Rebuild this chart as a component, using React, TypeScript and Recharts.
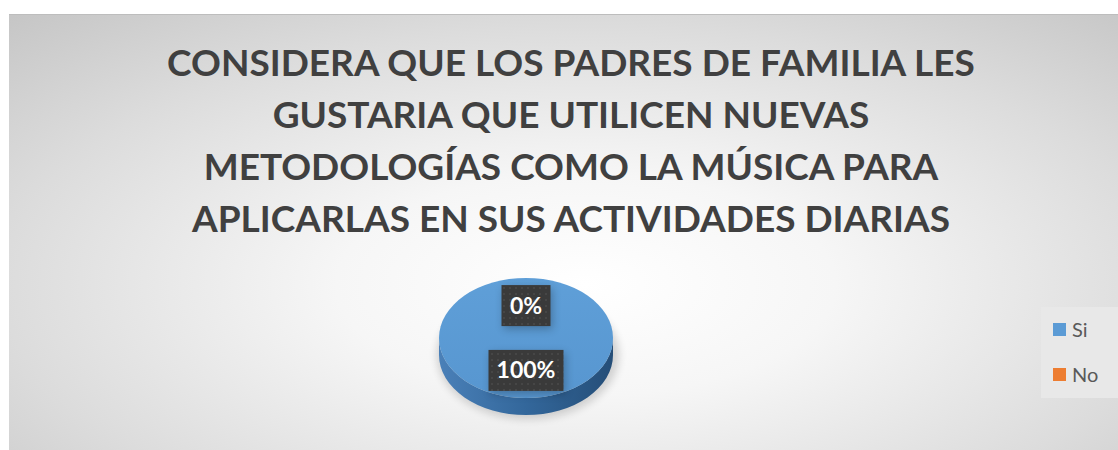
import React from 'react'
import { PieChart, Pie, Legend } from 'recharts'

const categories = ['Si', 'No']
const values = [100, 0]
const colors = ['#5b9bd5', '#ed7d31']
const titleLines = [
  'CONSIDERA QUE LOS PADRES DE FAMILIA LES',
  'GUSTARIA QUE UTILICEN NUEVAS',
  'METODOLOGÍAS COMO LA MÚSICA PARA',
  'APLICARLAS EN SUS ACTIVIDADES DIARIAS',
]

const data = categories.map((name, i) => ({ name, value: values[i], fill: colors[i] }))
const total = values.reduce((a, b) => a + b, 0)

const RADIAN = Math.PI / 180
const TILT = 0.69
const DEPTH = 17

const ellipsePoint = (cx: number, cy: number, rx: number, ry: number, deg: number) => ({
  x: cx + rx * Math.cos(-deg * RADIAN),
  y: cy + ry * Math.sin(-deg * RADIAN),
})

// elliptical "3d" slice built from the sector geometry recharts gives us
const TiltedSector = (props: any) => {
  const { cx, cy, outerRadius, startAngle, endAngle } = props
  const span = Math.abs(endAngle - startAngle)
  if (span < 0.01) return null
  const rx = outerRadius
  const ry = outerRadius * TILT
  let top: string
  if (span >= 359.99) {
    top = `M${cx - rx},${cy} A${rx},${ry} 0 1 0 ${cx + rx},${cy} A${rx},${ry} 0 1 0 ${cx - rx},${cy} Z`
  } else {
    const s = ellipsePoint(cx, cy, rx, ry, startAngle)
    const e = ellipsePoint(cx, cy, rx, ry, endAngle)
    const large = span > 180 ? 1 : 0
    const sweep = startAngle > endAngle ? 1 : 0
    top = `M${cx},${cy} L${s.x},${s.y} A${rx},${ry} 0 ${large} ${sweep} ${e.x},${e.y} Z`
  }
  const side = `M${cx - rx},${cy} A${rx},${ry} 0 0 0 ${cx + rx},${cy} L${cx + rx},${cy + DEPTH} A${rx},${ry} 0 0 1 ${cx - rx},${cy + DEPTH} Z`
  return (
    <g>
      <ellipse cx={cx + 2} cy={cy + DEPTH} rx={rx + 4} ry={ry + 4} fill="#000" opacity={0.16} filter="url(#pieBlur)" />
      {span >= 359.99 && <path d={side} fill="url(#sideGrad)" />}
      <path d={top} fill="url(#topGrad)" />
    </g>
  )
}

const renderLabel = (props: any) => {
  const { cx, cy, midAngle, outerRadius, value } = props
  const ry = outerRadius * TILT
  const x = cx + outerRadius * 0.54 * Math.cos(-midAngle * RADIAN)
  const y = cy + ry * 0.54 * Math.sin(-midAngle * RADIAN)
  const text = `${Math.round((value / total) * 100)}%`
  const w = text.length * 13 + 23
  const h = 41
  return (
    <g>
      <rect x={x - w / 2 + 2} y={y - h / 2 + 3} width={w} height={h} fill="#000" opacity={0.25} filter="url(#pieBlur)" />
      <rect x={x - w / 2} y={y - h / 2} width={w} height={h} fill="url(#dots)" />
      <text x={x} y={y + 8} textAnchor="middle" fill="#fff" fontSize={23} fontWeight={700} fontFamily="Lato, 'Open Sans', sans-serif">
        {text}
      </text>
    </g>
  )
}

const renderLegend = () => (
  <div style={{ background: '#e8e8e8', width: 77, height: 91, paddingTop: 8, boxSizing: 'border-box' }}>
    {data.map((d) => (
      <div key={d.name} style={{ display: 'flex', alignItems: 'center', height: 28, marginBottom: 17, paddingLeft: 12 }}>
        <span style={{ width: 13, height: 13, background: d.fill, display: 'inline-block', marginRight: 6 }} />
        <span style={{ fontFamily: "Lato, 'Open Sans', sans-serif", fontSize: 20, color: '#595959' }}>{d.name}</span>
      </div>
    ))}
  </div>
)

export default function App() {
  return (
    <div
      style={{
        position: 'absolute',
        left: 9,
        top: 15,
        width: 1109,
        height: 435,
        background: 'radial-gradient(ellipse 75% 85% at 52% 62%, #ffffff 0%, #f6f6f6 30%, #dcdcdc 70%, #c6c6c6 100%)',
        boxShadow: '0 -1px 0 #bdbdbd',
        overflow: 'hidden',
      }}
    >
      <div
        style={{
          position: 'absolute',
          top: 21,
          left: 0,
          width: 1124,
          textAlign: 'center',
          fontFamily: "Lato, 'Open Sans', sans-serif",
          fontWeight: 700,
          fontSize: 37,
          lineHeight: '52px',
          color: '#404040',
        }}
      >
        {titleLines.map((l) => (
          <div key={l}>{l}</div>
        ))}
      </div>
      <PieChart
        width={1109}
        height={435}
        margin={{ top: 0, right: 0, bottom: 0, left: 0 }}
        style={{ position: 'absolute', left: 0, top: 0 }}
      >
        <defs>
          <filter id="pieBlur" x="-20%" y="-20%" width="140%" height="140%">
            <feGaussianBlur stdDeviation="4" />
          </filter>
          <linearGradient id="topGrad" x1="0" y1="0" x2="0" y2="1">
            <stop offset="0%" stopColor="#5f9fd8" />
            <stop offset="100%" stopColor="#5796d0" />
          </linearGradient>
          <linearGradient id="sideGrad" x1="0" y1="0" x2="1" y2="0">
            <stop offset="0%" stopColor="#4a80b8" />
            <stop offset="50%" stopColor="#33679b" />
            <stop offset="100%" stopColor="#254e78" />
          </linearGradient>
          <pattern id="dots" width="6" height="6" patternUnits="userSpaceOnUse">
            <rect width="6" height="6" fill="#3a3a3a" />
            <circle cx="3" cy="3" r="1" fill="#4a4a4a" />
          </pattern>
        </defs>
        <Pie
          data={data}
          dataKey="value"
          nameKey="name"
          cx={517}
          cy={323}
          outerRadius={87}
          startAngle={90}
          endAngle={-270}
          stroke="none"
          shape={TiltedSector}
          label={renderLabel}
          labelLine={false}
          isAnimationActive={false}
        />
        <Legend
          content={renderLegend}
          layout="vertical"
          wrapperStyle={{ position: 'absolute', left: 1032, top: 292, width: 77 }}
        />
      </PieChart>
    </div>
  )
}
